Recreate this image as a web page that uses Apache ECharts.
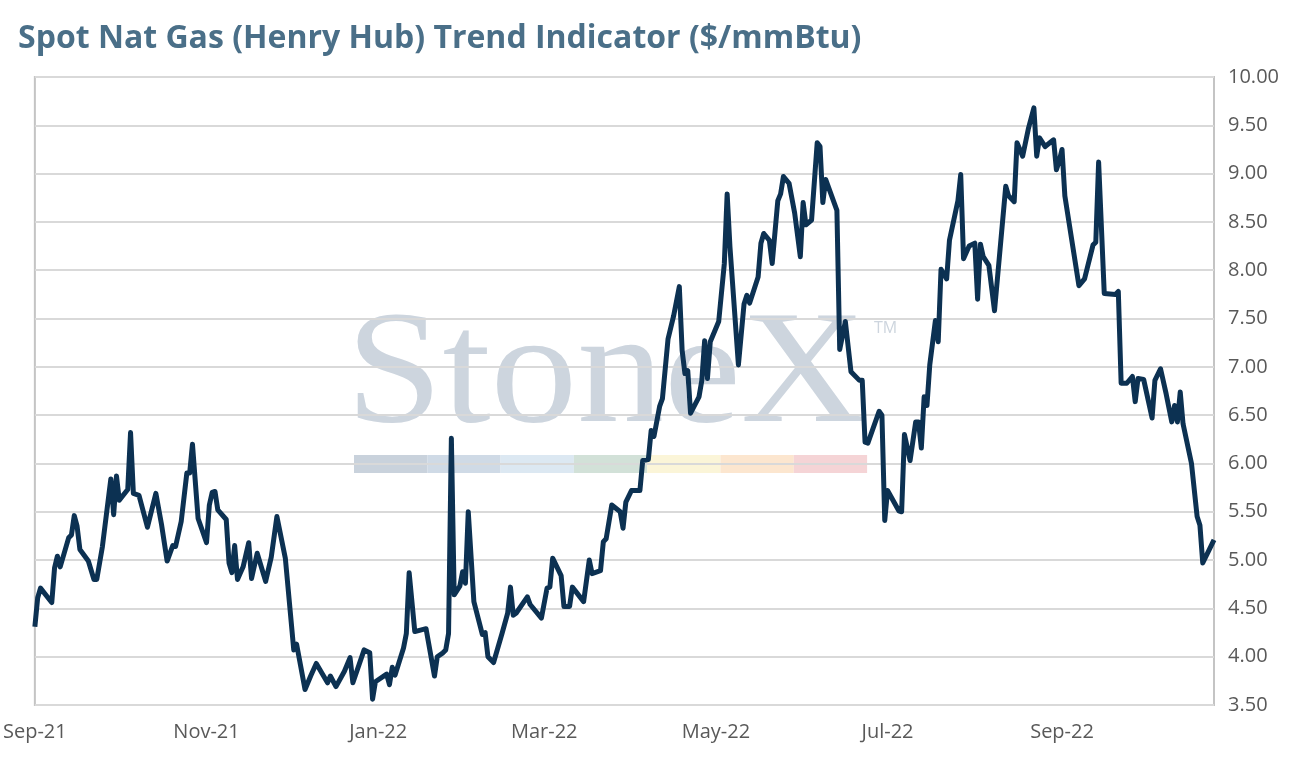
<!DOCTYPE html>
<html>
<head>
<meta charset="utf-8">
<title>Spot Nat Gas (Henry Hub) Trend Indicator</title>
<script src="https://cdn.jsdelivr.net/npm/echarts@6/dist/echarts.min.js"></script>
<style>
  html, body { margin: 0; padding: 0; background: #fff; }
  #chart { width: 1293px; height: 766px; }
</style>
</head>
<body>
<div id="chart"></div>
<script>
// 数据
var dates = [
  '2021-09-01','2021-09-02','2021-09-03','2021-09-07','2021-09-08','2021-09-09','2021-09-10','2021-09-13',
  '2021-09-14','2021-09-15','2021-09-16','2021-09-17','2021-09-20','2021-09-22','2021-09-23','2021-09-25',
  '2021-09-28','2021-09-29','2021-09-30','2021-10-01','2021-10-04','2021-10-05','2021-10-06','2021-10-08',
  '2021-10-11','2021-10-14','2021-10-16','2021-10-18','2021-10-20','2021-10-21','2021-10-23','2021-10-25',
  '2021-10-26','2021-10-27','2021-10-29','2021-11-01','2021-11-02','2021-11-03','2021-11-04','2021-11-05',
  '2021-11-08','2021-11-09','2021-11-10','2021-11-11','2021-11-12','2021-11-14','2021-11-16','2021-11-17',
  '2021-11-19','2021-11-22','2021-11-24','2021-11-26','2021-11-29','2021-12-02','2021-12-03','2021-12-06',
  '2021-12-07','2021-12-08','2021-12-10','2021-12-14','2021-12-15','2021-12-17','2021-12-20','2021-12-22',
  '2021-12-23','2021-12-27','2021-12-29','2021-12-30','2021-12-31','2022-01-04','2022-01-05','2022-01-06',
  '2022-01-07','2022-01-10','2022-01-11','2022-01-12','2022-01-14','2022-01-18','2022-01-21','2022-01-22',
  '2022-01-24','2022-01-25','2022-01-26','2022-01-27','2022-01-28','2022-01-30','2022-01-31','2022-02-01',
  '2022-02-02','2022-02-04','2022-02-07','2022-02-08','2022-02-09','2022-02-11','2022-02-14','2022-02-16',
  '2022-02-17','2022-02-18','2022-02-19','2022-02-23','2022-02-24','2022-02-28','2022-03-02','2022-03-03',
  '2022-03-04','2022-03-07','2022-03-08','2022-03-10','2022-03-11','2022-03-15','2022-03-17','2022-03-18',
  '2022-03-21','2022-03-22','2022-03-23','2022-03-25','2022-03-28','2022-03-29','2022-03-30','2022-04-01',
  '2022-04-04','2022-04-05','2022-04-07','2022-04-08','2022-04-09','2022-04-11','2022-04-12','2022-04-14',
  '2022-04-16','2022-04-18','2022-04-19','2022-04-20','2022-04-21','2022-04-22','2022-04-25','2022-04-26',
  '2022-04-27','2022-04-28','2022-04-29','2022-05-02','2022-05-04','2022-05-05','2022-05-06','2022-05-09',
  '2022-05-11','2022-05-12','2022-05-13','2022-05-16','2022-05-17','2022-05-18','2022-05-20','2022-05-21',
  '2022-05-23','2022-05-24','2022-05-25','2022-05-27','2022-05-29','2022-05-31','2022-06-01','2022-06-02',
  '2022-06-04','2022-06-06','2022-06-07','2022-06-08','2022-06-09','2022-06-13','2022-06-14','2022-06-16',
  '2022-06-18','2022-06-21','2022-06-22','2022-06-23','2022-06-24','2022-06-28','2022-06-29','2022-06-30',
  '2022-07-01','2022-07-05','2022-07-06','2022-07-07','2022-07-09','2022-07-11','2022-07-12','2022-07-13',
  '2022-07-14','2022-07-15','2022-07-16','2022-07-18','2022-07-19','2022-07-20','2022-07-22','2022-07-23',
  '2022-07-26','2022-07-27','2022-07-28','2022-07-30','2022-08-01','2022-08-02','2022-08-03','2022-08-04',
  '2022-08-06','2022-08-08','2022-08-09','2022-08-12','2022-08-13','2022-08-15','2022-08-16','2022-08-18',
  '2022-08-20','2022-08-22','2022-08-23','2022-08-24','2022-08-26','2022-08-29','2022-08-30','2022-08-31',
  '2022-09-01','2022-09-02','2022-09-07','2022-09-09','2022-09-12','2022-09-13','2022-09-14','2022-09-16',
  '2022-09-20','2022-09-21','2022-09-22','2022-09-24','2022-09-26','2022-09-27','2022-09-28','2022-09-30',
  '2022-10-03','2022-10-04','2022-10-06','2022-10-08','2022-10-10','2022-10-11','2022-10-12','2022-10-13',
  '2022-10-14','2022-10-17','2022-10-19','2022-10-20','2022-10-21','2022-10-25'
];
var prices = [
  4.31,4.61,4.71,4.56,4.92,5.04,4.93,5.23,
  5.26,5.46,5.35,5.11,4.99,4.80,4.80,5.14,
  5.84,5.47,5.87,5.62,5.73,6.32,5.69,5.67,
  5.34,5.69,5.37,4.99,5.15,5.14,5.40,5.90,
  5.90,6.20,5.43,5.18,5.57,5.70,5.71,5.52,
  5.42,4.97,4.87,5.15,4.80,4.93,5.18,4.81,
  5.07,4.78,5.03,5.45,5.02,4.07,4.13,3.66,
  3.73,3.80,3.93,3.73,3.80,3.69,3.85,3.99,
  3.73,4.07,4.04,3.56,3.74,3.82,3.71,3.89,
  3.81,4.09,4.24,4.87,4.26,4.29,3.80,4.00,
  4.04,4.07,4.24,6.26,4.64,4.73,4.88,4.76,
  5.50,4.57,4.23,4.25,4.00,3.94,4.24,4.45,
  4.72,4.43,4.45,4.62,4.54,4.40,4.71,4.72,
  5.02,4.84,4.52,4.52,4.72,4.57,5.00,4.86,
  4.89,5.19,5.22,5.57,5.50,5.33,5.60,5.72,
  5.72,6.03,6.04,6.34,6.28,6.59,6.67,7.29,
  7.53,7.83,7.17,6.93,6.96,6.52,6.69,6.86,
  7.27,6.88,7.26,7.47,8.07,8.79,8.24,7.02,
  7.65,7.74,7.66,7.93,8.28,8.38,8.31,8.07,
  8.72,8.79,8.97,8.90,8.59,8.14,8.70,8.47,
  8.52,9.32,9.28,8.70,8.94,8.62,7.18,7.47,
  6.95,6.86,6.86,6.22,6.21,6.54,6.50,5.41,
  5.72,5.51,5.50,6.30,6.03,6.43,6.43,6.16,
  6.69,6.60,7.02,7.48,7.26,8.01,7.91,8.31,
  8.72,8.99,8.12,8.25,8.28,7.70,8.27,8.14,
  8.05,7.58,7.90,8.87,8.77,8.71,9.32,9.18,
  9.46,9.68,9.18,9.37,9.28,9.35,9.04,9.13,
  9.25,8.77,7.84,7.91,8.26,8.29,9.12,7.76,
  7.75,7.78,6.83,6.83,6.90,6.64,6.88,6.87,
  6.47,6.86,6.98,6.72,6.43,6.60,6.43,6.74,
  6.41,6.00,5.45,5.36,4.97,5.21
];
var monthNames = ['Jan','Feb','Mar','Apr','May','Jun','Jul','Aug','Sep','Oct','Nov','Dec'];
var axisStart = '2021-09-01';
var axisEnd = '2022-10-25';
// 水印色条
var bandColors = ['#c9d2dc','#cfdae6','#dce8f2','#d2e1d8','#fbf5d8','#fce6cf','#f5d4d6'];

var seriesData = dates.map(function (d, i) { return [d, prices[i]]; });

var graphics = [{
  type: 'text', left: 346, top: 297, z: -1, scaleX: 1.07,
  style: { text: 'StoneX', font: '162px "Liberation Serif", serif', fill: '#cdd5de' }
}, {
  type: 'text', left: 874, top: 320, z: -1,
  style: { text: 'TM', font: '16px "Open Sans", sans-serif', fill: '#cdd5de' }
}];
bandColors.forEach(function (c, i) {
  graphics.push({
    type: 'rect', z: -1,
    shape: { x: 354 + i * 73.3, y: 455, width: 73.3, height: 18 },
    style: { fill: c }
  });
});

var chart = echarts.init(document.getElementById('chart'));
chart.setOption({
  animation: false,
  title: {
    text: 'Spot Nat Gas (Henry Hub) Trend Indicator ($/mmBtu)',
    left: 13, top: 18,
    textStyle: { fontFamily: 'Open Sans', fontWeight: 'bold', fontSize: 32, color: '#4a6f88' }
  },
  graphic: graphics,
  grid: {
    left: 33, right: 79, top: 77, bottom: 61,
    show: true, borderColor: '#c4c4c4', borderWidth: 2
  },
  xAxis: {
    type: 'time',
    min: axisStart,
    max: axisEnd,
    minInterval: 28 * 86400000,
    maxInterval: 31 * 86400000,
    axisLine: { show: false },
    axisTick: { show: false },
    splitLine: { show: false },
    axisLabel: {
      margin: 17,
      fontFamily: 'Open Sans', fontSize: 20, color: '#595959',
      hideOverlap: false,
      formatter: function (val) {
        var d = new Date(val);
        if (d.getDate() !== 1 || d.getMonth() % 2 !== 0) return '';
        return monthNames[d.getMonth()] + '-' + String(d.getFullYear()).slice(2);
      }
    }
  },
  yAxis: {
    type: 'value',
    position: 'right',
    min: 3.5, max: 10, interval: 0.5,
    axisLine: { show: false },
    axisTick: { show: false },
    splitLine: { lineStyle: { color: '#d9d9d9', width: 2 } },
    axisLabel: {
      margin: 14,
      fontFamily: 'Open Sans', fontSize: 20, color: '#595959',
      formatter: function (v) { return v.toFixed(2); }
    }
  },
  series: [{
    name: 'Henry Hub',
    type: 'line',
    data: seriesData,
    showSymbol: false,
    lineStyle: { color: '#0c3152', width: 5, join: 'round' },
    z: 3
  }]
});
</script>
</body>
</html>
